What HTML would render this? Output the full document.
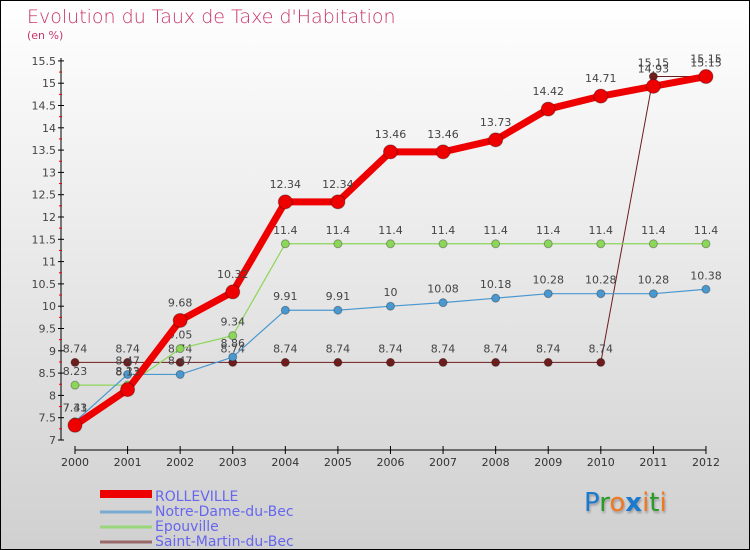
<!DOCTYPE html>
<html><head><meta charset="utf-8"><style>
body{margin:0}
#wrap{width:750px;height:550px;position:relative;box-sizing:border-box;border:1px solid #000;background:linear-gradient(#ffffff,#d0d0d0);font-family:"DejaVu Sans","Liberation Sans",sans-serif;overflow:hidden}
.t{position:absolute;color:#c8346a}
</style></head><body>
<div id="wrap">
<div class="t" style="left:26px;top:5px;font-size:19px;font-weight:200">Evolution du Taux de Taxe d'Habitation</div>
<div class="t" style="left:26px;top:28px;font-size:11px">(en %)</div>
<svg id="c" width="750" height="550" style="position:absolute;left:-1px;top:-1px"></svg>
<div style="position:absolute;left:583px;top:487px;font-size:26px;font-family:'DejaVu Sans',sans-serif;text-shadow:1px 2px 2px #999"><span style="color:#1a7ad0">P</span><span style="color:#2a9a2a">r</span><span style="color:#f07820">o</span><span style="color:#1a7ad0;font-weight:bold">x</span><span style="color:#f07820">i</span><span style="color:#2a9a2a">t</span><span style="color:#f07820">i</span></div>
</div>
<script>
const years=["2000","2001","2002","2003","2004","2005","2006","2007","2008","2009","2010","2011","2012"];
const rolleville=[7.33,8.13,9.68,10.32,12.34,12.34,13.46,13.46,13.73,14.42,14.71,14.93,15.15];
const notreDame=[7.41,8.47,8.47,8.86,9.91,9.91,10,10.08,10.18,10.28,10.28,10.28,10.38];
const epouville=[8.23,8.23,9.05,9.34,11.4,11.4,11.4,11.4,11.4,11.4,11.4,11.4,11.4];
const saintMartin=[8.74,8.74,8.74,8.74,8.74,8.74,8.74,8.74,8.74,8.74,8.74,15.15,15.15];
const yTicks=[7,7.5,8,8.5,9,9.5,10,10.5,11,11.5,12,12.5,13,13.5,14,14.5,15,15.5];
const seriesNames=["ROLLEVILLE","Notre-Dame-du-Bec","Epouville","Saint-Martin-du-Bec"];
const NS="http://www.w3.org/2000/svg",svg=document.getElementById('c');
const X=i=>75+i*52.58, Y=v=>440-(v-7)*44.6;
function mk(t,a,p){const e=document.createElementNS(NS,t);for(const k in a)e.setAttribute(k,a[k]);(p||svg).appendChild(e);return e;}
function txt(x,y,s,a,size,fill){const e=mk('text',{x,y,'text-anchor':a,'font-size':size||11,fill:fill||'#444','font-family':'DejaVu Sans, Liberation Sans, sans-serif'});e.textContent=s;return e;}
// axes
let ax=mk('line',{x1:61,y1:58,x2:61,y2:440,stroke:'#000'});
let bx=mk('line',{x1:75,y1:450,x2:706,y2:450,stroke:'#000'});
yTicks.forEach(v=>{mk('line',{x1:58,y1:Y(v),x2:64,y2:Y(v),stroke:'#000'});
 let t=txt(56,Y(v)+4,String(v),'end',11,'#444');
 if(v<15.5)mk('line',{x1:59,y1:Y(v+0.25),x2:62,y2:Y(v+0.25),stroke:'#e00'});});
years.forEach((y,i)=>{mk('line',{x1:X(i),y1:446,x2:X(i),y2:454,stroke:'#000'});
 let t=txt(X(i),466,y,'middle',11,'#333');});
function series(d,col,w,r,name,lblCol){
 const g=mk('g',{});
 mk('polyline',{points:d.map((v,i)=>X(i)+','+Y(v)).join(' '),fill:'none',stroke:col,'stroke-width':w,'stroke-linejoin':'round'},g);
 d.forEach((v,i)=>{const c=mk('circle',{cx:X(i),cy:Y(v),r,fill:col,stroke:'rgba(0,0,0,0.3)'},g);
  txt(X(i),Y(v)-10-(r>5?4:0),String(v),'middle',11,'#444');});
}
series(saintMartin,'#6e1d1d',1,4,'saint-martin-series');
series(epouville,'#8cd65a',1.2,4,'epouville-series');
series(notreDame,'#4a98d0',1.2,4,'notre-dame-series');
series(rolleville,'#ee0000',7,7,'rolleville-series');
// legend
const lc=['#ee0000','#7aaad0','#9ad67a','#9a6a6a'],lw=[8,3,3,3];
seriesNames.forEach((n,i)=>{const y=492+i*15;
 const g=mk('g',{});
 mk('line',{x1:100,y1:y+(i?5:2),x2:152,y2:y+(i?5:2),stroke:lc[i],'stroke-width':lw[i]},g);
 const t=txt(155,y+9,n,'start',14,'#6666ee');g.appendChild(t);});
</script>
</body></html>
